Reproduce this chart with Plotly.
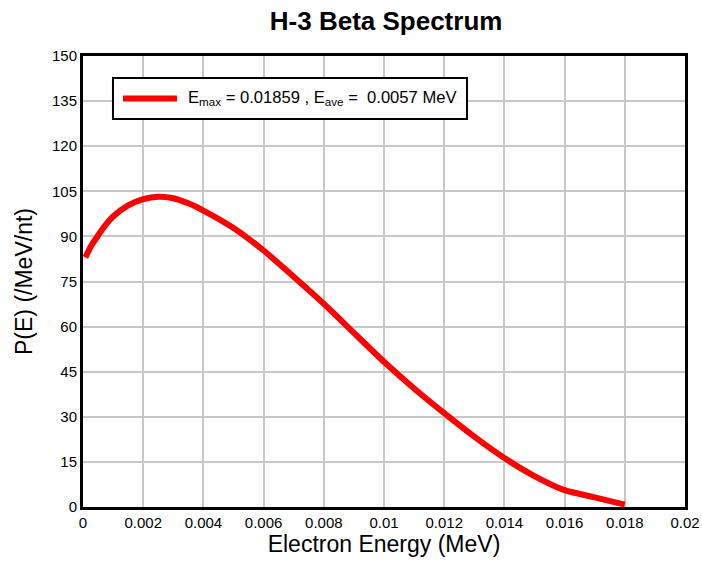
import plotly.graph_objects as go

energy_mev = [0.00008, 0.00025, 0.0005, 0.00075, 0.001, 0.0015, 0.002, 0.0025, 0.003, 0.0035, 0.004, 0.005,
              0.006, 0.007, 0.008, 0.009, 0.010, 0.011, 0.012, 0.013, 0.014, 0.015,
              0.016, 0.017, 0.018]
prob = [83.0, 86.5, 90.3, 93.8, 96.6, 100.3, 102.4, 103.2, 102.7, 101.0, 98.6, 92.8,
        85.3, 76.6, 67.6, 57.9, 48.3, 39.4, 31.2, 23.4, 16.3, 10.3,
        5.6, 3.2, 0.8]

legend_text = "E<sub>max</sub> = 0.01859 , E<sub>ave</sub> =  0.0057 MeV"
x_ticks = [0, 0.002, 0.004, 0.006, 0.008, 0.01, 0.012, 0.014, 0.016, 0.018, 0.02]
x_tick_labels = ["0", "0.002", "0.004", "0.006", "0.008", "0.01", "0.012", "0.014", "0.016", "0.018", "0.02"]
y_ticks = [0, 15, 30, 45, 60, 75, 90, 105, 120, 135, 150]

font_family = "Liberation Sans, Arial, sans-serif"
curve_color = "#ff0000"

fig = go.Figure()
fig.add_trace(go.Scatter(
    x=energy_mev, y=prob, mode="lines", name=legend_text, showlegend=False,
    line=dict(color=curve_color, width=6, shape="spline", smoothing=0.6),
))

# legend box drawn manually (paper coordinates)
fig.add_shape(type="rect", xref="paper", yref="paper",
              x0=0.0498, x1=0.6379, y0=0.8603, y1=0.9512,
              line=dict(color="black", width=2), fillcolor="white", layer="above")
fig.add_shape(type="line", xref="paper", yref="paper",
              x0=0.0664, x1=0.1561, y0=0.9058, y1=0.9058,
              line=dict(color=curve_color, width=6), layer="above")
fig.add_annotation(text=legend_text, xref="paper", yref="paper",
                   x=0.1711, y=0.9058, xanchor="left", yanchor="middle",
                   showarrow=False, font=dict(size=16.6, family=font_family, color="black"))

fig.update_layout(
    width=702, height=567,
    margin=dict(l=83, r=17, t=56, b=60),
    paper_bgcolor="white", plot_bgcolor="white",
    font=dict(family=font_family, color="black", size=15),
    title=dict(text="<b>H-3 Beta Spectrum</b>", x=0.55, xanchor="center",
               y=0.963, yanchor="middle", font=dict(size=26, family=font_family)),
    showlegend=False,
)
fig.update_xaxes(
    range=[0, 0.02], tickvals=x_ticks, ticktext=x_tick_labels, automargin=False,
    showgrid=True, gridcolor="#c8c8c8", gridwidth=2,
    showline=True, linecolor="black", linewidth=3, mirror=True,
    ticks="", zeroline=False,
    title=dict(text="Electron Energy (MeV)", font=dict(size=23), standoff=6),
    tickfont=dict(size=15),
)
fig.update_yaxes(
    range=[0, 150], tickvals=y_ticks, automargin=False,
    showgrid=True, gridcolor="#c8c8c8", gridwidth=2,
    showline=True, linecolor="black", linewidth=3, mirror=True,
    ticks="", zeroline=False,
    title=dict(text="P(E) (/MeV/nt)", font=dict(size=23), standoff=13),
    tickfont=dict(size=15),
)

fig.write_html("out.html")
